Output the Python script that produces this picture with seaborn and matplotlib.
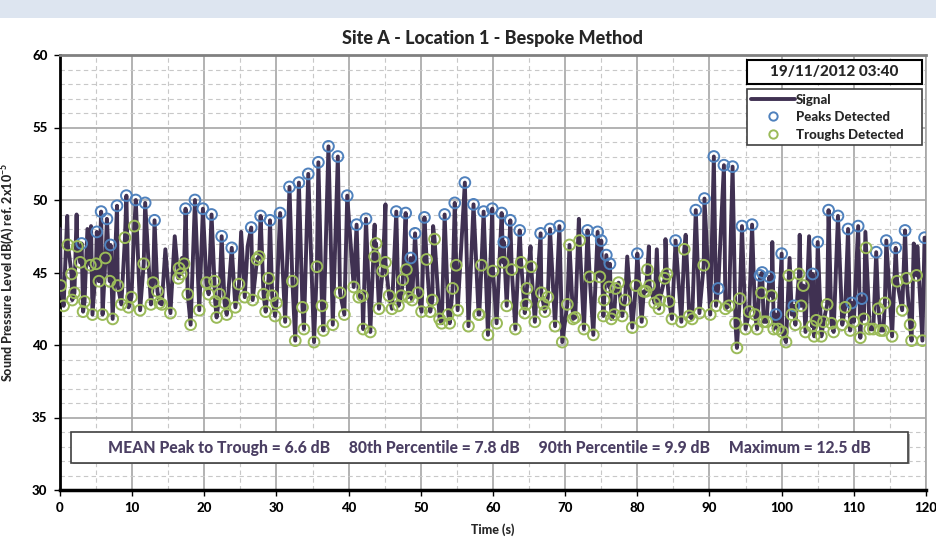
import matplotlib
matplotlib.use("Agg")
import matplotlib.pyplot as plt
from matplotlib.patches import Rectangle
from matplotlib.lines import Line2D
from matplotlib.ticker import MultipleLocator
import seaborn as sns
import pandas as pd

# peaks detected (time s, level dB)
peak_t = [3.0, 5.1, 5.7, 6.5, 7.0, 7.9, 9.2, 10.5, 11.8, 13.1, 17.4, 18.7, 19.8,
          21.0, 22.4, 23.8, 26.5, 27.8, 29.1, 30.5, 31.8, 33.1, 34.4, 35.8, 37.2, 38.5, 39.8,
          41.1, 42.4, 46.6, 47.9, 48.6, 49.2, 50.5, 53.3, 54.7, 56.1, 57.3, 58.7, 59.9,
          61.2, 61.5, 62.4, 63.7, 66.6, 67.9, 69.2, 73.1, 74.5, 75.0, 75.7, 76.2, 80.0,
          85.3, 88.1, 89.3, 90.6, 91.2, 92.0, 93.2, 94.5, 95.9, 97.0, 97.3, 98.3, 99.2,
          100.0, 101.7, 104.3, 105.0, 106.5, 107.8, 109.2, 109.7, 110.6, 111.1, 113.1,
          114.5, 115.8, 117.1, 119.8]
peak_v = [47.0, 47.8, 49.2, 48.7, 46.9, 49.6, 50.3, 50.0, 49.8, 48.6, 49.4, 50.0, 49.4,
          49.0, 47.5, 46.7, 48.1, 48.9, 48.6, 49.1, 50.9, 51.2, 51.8, 52.6, 53.7, 53.0, 50.3,
          48.3, 48.7, 49.2, 49.1, 46.0, 47.7, 48.8, 49.0, 49.8, 51.2, 49.7, 49.2, 49.4,
          49.1, 47.1, 48.6, 47.9, 47.7, 48.0, 48.2, 47.9, 47.8, 47.2, 46.2, 45.6, 46.3,
          47.2, 49.3, 50.1, 53.0, 43.9, 52.4, 52.3, 48.2, 48.3, 44.8, 45.0, 44.7, 42.1,
          46.3, 42.7, 44.9, 47.1, 49.3, 48.9, 48.0, 42.9, 48.2, 43.2, 46.4,
          47.2, 46.7, 47.9, 47.4]

# troughs detected (time s, level dB)
trough_t = [0.1, 0.5, 1.1, 1.6, 1.7, 2.0, 2.4, 2.8, 3.2, 3.4, 4.2, 4.5, 5.0, 5.4, 5.9,
            6.3, 6.9, 7.3, 8.0, 8.5, 9.0, 9.5, 9.9, 10.3, 11.1, 11.6, 12.6, 12.9, 13.5,
            13.8, 14.1, 15.3, 16.4, 16.5, 16.8, 17.2, 17.7, 18.1, 19.3, 20.3, 20.6, 21.4,
            21.5, 21.7, 22.1, 22.8, 23.1, 24.3, 24.8, 25.6, 26.7, 27.3, 27.6, 28.2, 28.5,
            28.9, 29.4, 29.8, 30.0, 31.2, 32.2, 32.6, 33.6, 33.8, 35.2, 35.6, 36.3, 36.5,
            37.8, 38.8, 39.4, 40.7, 41.4, 41.9, 42.0, 43.0, 43.6, 43.8, 44.2, 44.7, 45.1,
            45.6, 46.0, 46.9, 47.3, 47.5, 48.0, 48.3, 48.8, 49.6, 50.1, 50.8, 51.3, 51.6,
            51.9, 52.6, 52.9, 53.8, 54.0, 54.4, 54.9, 55.1, 56.6, 58.0, 58.1, 58.4, 59.3,
            60.0, 60.5, 61.4, 61.9, 62.6, 63.1, 63.9, 64.4, 64.6, 64.7, 65.3, 65.8, 66.7,
            67.0, 67.2, 67.6, 68.6, 69.6, 70.3, 70.6, 71.1, 71.4, 72.0, 72.6, 73.4, 73.9,
            74.8, 75.3, 75.4, 76.1, 76.4, 76.8, 77.0, 77.4, 77.9, 78.3, 79.3, 79.8, 80.6,
            80.9, 81.2, 81.4, 81.7, 82.4, 83.0, 83.1, 83.8, 84.1, 84.4, 84.8, 86.1, 86.5,
            87.2, 87.6, 88.6, 89.2, 90.1, 90.9, 92.2, 92.7, 93.6, 93.8, 94.2, 95.0, 95.5,
            96.3, 96.6, 97.2, 97.5, 97.9, 98.6, 98.9, 99.5, 100.1, 100.6, 101.0, 101.4,
            101.9, 102.4, 102.7, 103.0, 103.3, 104.2, 104.5, 104.8, 105.5, 105.8, 106.3,
            106.9, 107.2, 108.4, 108.8, 109.5, 110.0, 110.9, 111.4, 111.7, 112.2, 112.7,
            113.4, 113.7, 114.1, 114.3, 115.3, 116.0, 116.7, 117.3, 117.8, 118.0, 118.7,
            119.5]
trough_v = [44.1, 42.7, 46.9, 44.9, 43.1, 43.6, 46.8, 45.7, 42.3, 43.0, 45.5, 42.1, 45.6, 44.4, 42.1,
            46.0, 44.4, 41.8, 44.1, 42.8, 47.4, 42.6, 43.3, 48.2, 42.4, 45.6, 42.8, 44.3, 43.7,
            42.9, 42.8, 42.2, 44.6, 45.3, 44.9, 45.6, 43.5, 41.4, 42.4, 44.3, 43.5, 44.4,
            43.0, 41.9, 43.5, 42.9, 42.1, 42.6, 44.2, 43.3, 43.1, 45.9, 46.1, 43.5, 42.3,
            44.6, 43.4, 42.0, 42.9, 41.6, 44.4, 40.3, 42.6, 41.1, 40.2, 45.4, 42.7, 41.0,
            41.4, 43.6, 42.1, 44.0, 43.3, 43.4, 41.1, 40.9, 46.1, 47.0, 42.5, 45.1, 45.7,
            43.4, 42.5, 42.7, 43.4, 44.5, 45.2, 43.3, 43.1, 43.6, 42.3, 45.9, 42.3, 43.1,
            47.3, 41.8, 41.5, 42.1, 41.5, 43.9, 45.5, 42.4, 41.3, 42.1, 42.1, 45.5, 40.7,
            45.1, 41.5, 45.7, 42.7, 45.2, 41.1, 45.7, 42.2, 42.8, 43.9, 45.4, 41.6, 43.6,
            42.8, 42.3, 43.3, 41.3, 40.2, 42.8, 46.9, 41.8, 41.9, 47.2, 41.1, 44.7, 40.7,
            44.7, 42.0, 43.1, 44.0, 41.8, 42.1, 43.9, 44.3, 42.0, 43.1, 41.2, 44.1, 41.6,
            43.7, 43.7, 45.2, 44.1, 42.9, 42.5, 43.1, 44.6, 44.9, 43.0, 41.8, 41.6, 46.6,
            42.0, 41.8, 42.2, 45.5, 42.1, 42.7, 42.5, 42.7, 41.5, 39.8, 43.2, 41.1, 42.3,
            42.1, 41.1, 43.6, 41.6, 41.6, 43.4, 41.1, 41.1, 40.9, 40.2, 44.8, 42.1,
            41.4, 44.9, 42.7, 44.1, 40.9, 41.3, 40.6, 41.7, 40.6, 41.6, 42.8,
            41.5, 40.9, 41.4, 42.6, 41.0, 41.6, 40.5, 41.8, 46.7, 41.1, 41.1,
            42.5, 41.0, 41.0, 42.9, 40.6, 44.4, 42.4, 44.6, 41.4, 40.3, 44.8,
            40.3]

# other signal spikes without a detection marker
spike_t = [0.0, 1.0, 2.3, 3.8, 4.3, 14.6, 15.9, 16.9, 25.1, 26.0, 43.6, 45.1, 51.7,
           65.2, 71.9, 78.6, 81.6, 82.7, 83.9, 86.7, 98.7, 101.1, 102.5, 103.8, 111.6,
           118.3, 118.8, 120.0]
spike_v = [48.0, 48.9, 49.0, 48.0, 48.2, 46.6, 47.5, 46.0, 47.8, 46.8, 48.3, 49.7, 48.2,
           46.8, 48.7, 46.1, 46.8, 46.6, 47.3, 47.6, 47.1, 46.0, 47.6, 47.5, 47.8,
           47.0, 46.8, 47.4]

title = "Site A - Location 1 - Bespoke Method"
stamp = "19/11/2012 03:40"
stats = ("MEAN Peak to Trough = 6.6 dB     80th Percentile = 7.8 dB     "
         "90th Percentile = 9.9 dB     Maximum = 12.5 dB")

peaks = pd.DataFrame({"t": peak_t, "v": peak_v})
troughs = pd.DataFrame({"t": trough_t, "v": trough_v})
spikes = pd.DataFrame({"t": spike_t, "v": spike_v})
signal = pd.concat([peaks, troughs, spikes]).sort_values("t").reset_index(drop=True)

sns.set_style("white")
plt.rcParams["font.family"] = ["Lato", "DejaVu Sans"]
W = "black"  # heaviest weight available
plt.rcParams["mathtext.fontset"] = "custom"
plt.rcParams["mathtext.bf"] = "Lato:black"

line_col = "#403152"
blue = "#4f81bd"
green = "#9bbb59"

fig = plt.figure(figsize=(9.37, 5.40), dpi=100)
fig.patches.append(Rectangle((0, 1 - 18 / 540), 1, 18 / 540, transform=fig.transFigure,
                             facecolor="#dde5f0", edgecolor="none"))
ax = fig.add_axes([60 / 937, 1 - 490 / 540, 866 / 937, 435 / 540])

sns.lineplot(data=signal, x="t", y="v", ax=ax, color=line_col, lw=2.8,
             estimator=None, sort=False, zorder=3)
sns.scatterplot(data=peaks, x="t", y="v", ax=ax, s=60, facecolor="none",
                edgecolor=blue, linewidth=1.4, zorder=4)
sns.scatterplot(data=troughs, x="t", y="v", ax=ax, s=60, facecolor="none",
                edgecolor=green, linewidth=1.4, zorder=4)

ax.set_xlim(0, 120)
ax.set_ylim(30, 60)
ax.xaxis.set_major_locator(MultipleLocator(10))
ax.xaxis.set_minor_locator(MultipleLocator(5))
ax.yaxis.set_major_locator(MultipleLocator(5))
ax.yaxis.set_minor_locator(MultipleLocator(1))
ax.grid(which="major", color="#a6a6a6", lw=1.2, ls="-", zorder=0)
ax.grid(which="minor", color="#c8c8c8", lw=0.8, ls=(0, (4, 3)), zorder=0)
ax.set_axisbelow(True)

ax.spines["left"].set_color("black")
ax.spines["left"].set_linewidth(2)
ax.spines["bottom"].set_color("black")
ax.spines["bottom"].set_linewidth(2.5)
ax.spines["top"].set_color("#808080")
ax.spines["top"].set_linewidth(2)
ax.spines["right"].set_color("#a6a6a6")
ax.spines["right"].set_linewidth(1.2)

ax.tick_params(which="major", direction="out", length=4, width=1, colors="black",
               labelsize=9.5, left=True, bottom=True, pad=5)
ax.tick_params(which="minor", length=0)
for lab in ax.get_xticklabels() + ax.get_yticklabels():
    lab.set_fontweight(W)

ax.set_title(title, fontsize=13, fontweight=W, pad=8)
ax.set_xlabel("Time (s)", fontsize=9, fontweight=W, labelpad=6)
ax.set_ylabel("Sound Pressure Level dB(A) ref. 2x10$^{\\mathbf{-5}}$", fontsize=9,
              fontweight=W, labelpad=11)

# date stamp box
ax.add_patch(Rectangle((0.793, 0.933), 0.202, 0.0555, transform=ax.transAxes,
                       facecolor="white", edgecolor="black", lw=1.5, zorder=6))
ax.text(0.894, 0.960, stamp, transform=ax.transAxes, ha="center", va="center",
        fontsize=11, fontweight=W, zorder=7)

handles = [Line2D([], [], color=line_col, lw=2.8),
           Line2D([], [], ls="none", marker="o", ms=6, mfc="none", mec=blue, mew=1.4),
           Line2D([], [], ls="none", marker="o", ms=6, mfc="none", mec=green, mew=1.4)]
leg = ax.legend(handles, ["Signal", "Peaks Detected", "Troughs Detected"],
                loc="upper left", bbox_to_anchor=(0.793, 0.80, 0.202, 0.122),
                mode="expand", fontsize=9.5, frameon=True, fancybox=False,
                edgecolor="#404040", framealpha=1, borderpad=0.35, labelspacing=0.42,
                handlelength=3.3, handletextpad=0.05, borderaxespad=0)
leg.get_frame().set_linewidth(1.2)
leg.set_zorder(6)
for t in leg.get_texts():
    t.set_fontweight(W)

# summary box with a faint drop shadow
ax.add_patch(Rectangle((0.0145, 0.0595), 0.9665, 0.0699, transform=ax.transAxes,
                       facecolor="#b0b0b0", edgecolor="none", zorder=5))
ax.add_patch(Rectangle((0.0125, 0.0627), 0.9665, 0.0699, transform=ax.transAxes,
                       facecolor="white", edgecolor="#404040", lw=1.2, zorder=6))
ax.text(0.496, 0.0977, stats, transform=ax.transAxes, ha="center", va="center",
        fontsize=11.3, fontweight=W, color="#4b3f63", zorder=7)

fig.savefig("out.png", dpi=100)
